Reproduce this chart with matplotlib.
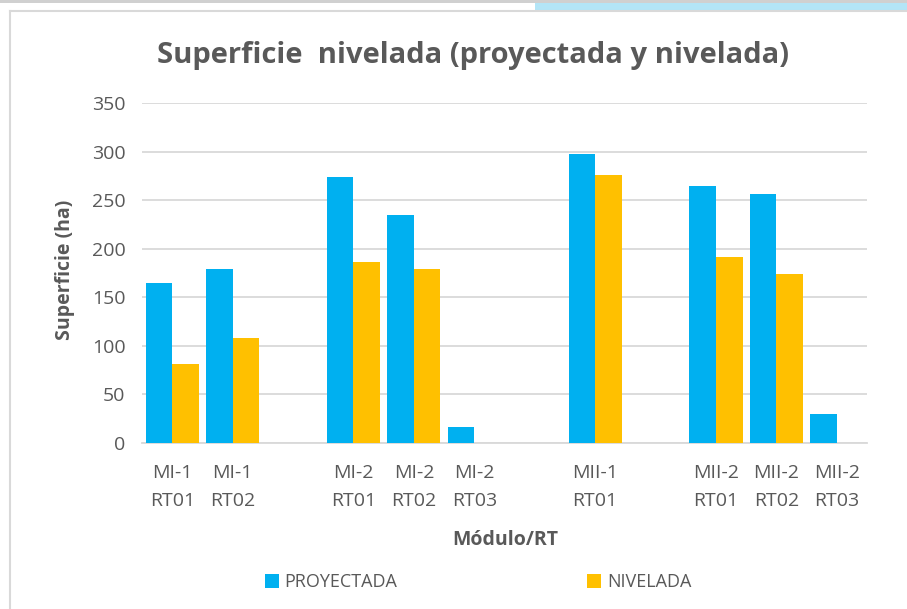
import matplotlib
matplotlib.use("Agg")
import matplotlib.pyplot as plt
import numpy as np
from matplotlib.patches import Rectangle
from matplotlib.lines import Line2D

categories = ["MI-1\nRT01", "MI-1\nRT02", "", "MI-2\nRT01", "MI-2\nRT02", "MI-2\nRT03",
              "", "MII-1\nRT01", "", "MII-2\nRT01", "MII-2\nRT02", "MII-2\nRT03"]
proyectada = [165, 179, np.nan, 274, 235, 16, np.nan, 297, np.nan, 265, 256, 30]
nivelada = [81, 108, np.nan, 186, 179, np.nan, np.nan, 276, np.nan, 191, 174, np.nan]
series_names = ["PROYECTADA", "NIVELADA"]
yticks = [0, 50, 100, 150, 200, 250, 300, 350]

plt.rcParams['font.family'] = ['Open Sans', 'DejaVu Sans']
txt = "#595959"
W, H = 907, 609
fig = plt.figure(figsize=(W/100, H/100), dpi=100)

# page decorations
fig.add_artist(Rectangle((0, 1-3/H), 1, 3/H, transform=fig.transFigure, color="#d0d0d0", lw=0))
fig.add_artist(Rectangle((535/W, 1-10/H), 1-535/W, 7/H, transform=fig.transFigure, color="#b3e5f7", lw=0))
fig.add_artist(Line2D([10/W, 1], [1-11/H, 1-11/H], transform=fig.transFigure, color="#d9d9d9", lw=1.5))
fig.add_artist(Line2D([10/W, 10/W], [0, 1-11/H], transform=fig.transFigure, color="#d9d9d9", lw=1.5))

ax = fig.add_axes([142/W, 1-443/H, (867-142)/W, (443-103)/H])
x = np.arange(len(categories))
bw = 0.44
ax.bar(x - bw/2, proyectada, bw, color="#00B0F0", label=series_names[0], zorder=3)
ax.bar(x + bw/2, nivelada, bw, color="#FFC000", label=series_names[1], zorder=3)

ax.set_xlim(-0.5, len(categories) - 0.5)
ax.set_ylim(0, 350)
ax.set_yticks(yticks)
ax.set_xticks(x)
ax.set_xticklabels(categories, linespacing=1.75)
ax.grid(axis="y", color="#d9d9d9", lw=1.3, zorder=0)
for s in ["top", "right", "left"]:
    ax.spines[s].set_visible(False)
ax.spines["bottom"].set_color("#d9d9d9")
ax.spines["bottom"].set_linewidth(1.3)
ax.tick_params(axis="both", length=0, colors=txt, labelsize=14)
ax.tick_params(axis="x", pad=15)
ax.tick_params(axis="y", pad=12)

fig.text(473/W, 1-55/H, "Superficie  nivelada (proyectada y nivelada)", ha="center", va="center",
         fontsize=21, fontweight="bold", color=txt)
fig.text(65/W, 1-270/H, "Superficie (ha)", ha="center", va="center", rotation=90,
         fontsize=14, fontweight="bold", color=txt)
fig.text(505/W, 1-540/H, "Módulo/RT", ha="center", va="center",
         fontsize=14, fontweight="bold", color=txt)

handles, labels = ax.get_legend_handles_labels()
leg = fig.legend(handles, labels, loc="center", bbox_to_anchor=(478/W, 1-582/H), ncol=2,
                 frameon=False, fontsize=13, handlelength=0.8, handleheight=0.8,
                 handletextpad=0.3, columnspacing=10.5)
for t in leg.get_texts():
    t.set_color(txt)

fig.savefig("out.png", dpi=100)
